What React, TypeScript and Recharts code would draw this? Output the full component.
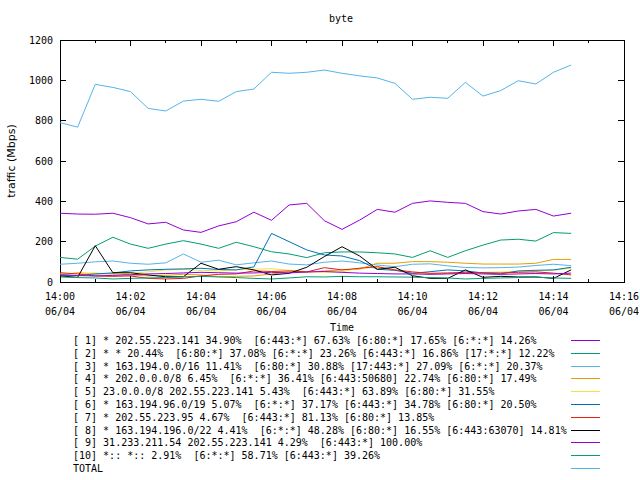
import { LineChart, Line, XAxis, YAxis, ReferenceArea, Legend } from "recharts";

// seconds after 14:00, one sample every 30s
const times = [
  0, 30, 60, 90, 120, 150, 180, 210, 240, 270, 300, 330, 360, 390, 420,
  450, 480, 510, 540, 570, 600, 630, 660, 690, 720, 750, 780, 810, 840, 870,
];

const s1 = [341, 337, 336, 341, 319, 288, 296, 258, 246, 278, 299, 346, 306, 382, 390, 304, 261, 307, 360, 346, 390, 402, 395, 390, 349, 337, 352, 360, 327, 341];
const s2 = [122, 113, 178, 222, 188, 167, 188, 205, 188, 167, 197, 175, 150, 139, 121, 145, 149, 149, 145, 139, 122, 155, 122, 155, 183, 208, 212, 203, 245, 241];
const s3 = [88, 93, 100, 104, 93, 88, 95, 139, 98, 108, 85, 95, 104, 89, 85, 98, 104, 95, 84, 76, 88, 90, 80, 72, 70, 71, 74, 82, 88, 81];
const s4 = [35, 46, 40, 42, 35, 30, 33, 38, 35, 26, 28, 30, 40, 50, 48, 55, 60, 64, 93, 93, 101, 101, 98, 93, 89, 89, 89, 93, 112, 112];
const s5 = [40, 42, 45, 38, 44, 50, 60, 62, 58, 55, 60, 64, 66, 58, 52, 48, 50, 70, 72, 60, 44, 40, 42, 45, 48, 50, 52, 55, 58, 68];
const s6 = [35, 32, 40, 45, 55, 60, 63, 65, 68, 62, 60, 75, 241, 200, 159, 134, 129, 106, 63, 58, 43, 51, 60, 55, 45, 40, 55, 58, 60, 73];
const s7 = [46, 40, 30, 28, 30, 18, 15, 18, 30, 38, 40, 55, 52, 55, 50, 71, 60, 68, 76, 60, 50, 43, 45, 48, 46, 45, 48, 50, 44, 35];
const s8 = [30, 23, 180, 46, 46, 35, 26, 26, 93, 63, 76, 60, 35, 43, 73, 126, 175, 129, 63, 73, 31, 18, 18, 60, 23, 28, 25, 25, 18, 60];
const s9 = [35, 32, 30, 33, 36, 40, 42, 45, 48, 46, 44, 45, 48, 45, 50, 52, 48, 44, 42, 40, 40, 38, 40, 42, 40, 38, 40, 42, 40, 44];
const s10 = [25, 22, 20, 15, 18, 20, 22, 26, 28, 25, 22, 18, 15, 20, 26, 25, 28, 26, 26, 25, 24, 22, 20, 15, 18, 20, 22, 24, 20, 18];
const total = [790, 768, 980, 965, 944, 861, 848, 897, 906, 896, 944, 957, 1040, 1035, 1040, 1051, 1035, 1022, 1012, 985, 906, 916, 911, 990, 922, 949, 998, 982, 1040, 1076];

const seriesValues = [s1, s2, s3, s4, s5, s6, s7, s8, s9, s10, total];

const seriesNames = [
  "[ 1] * 202.55.223.141 34.90%  [6:443:*] 67.63% [6:80:*] 17.65% [6:*:*] 14.26%",
  "[ 2] * * 20.44%  [6:80:*] 37.08% [6:*:*] 23.26% [6:443:*] 16.86% [17:*:*] 12.22%",
  "[ 3] * 163.194.0.0/16 11.41%  [6:80:*] 30.88% [17:443:*] 27.09% [6:*:*] 20.37%",
  "[ 4] * 202.0.0.0/8 6.45%  [6:*:*] 36.41% [6:443:50680] 22.74% [6:80:*] 17.49%",
  "[ 5] 23.0.0.0/8 202.55.223.141 5.43%  [6:443:*] 63.89% [6:80:*] 31.55%",
  "[ 6] * 163.194.96.0/19 5.07%  [6:*:*] 37.17% [6:443:*] 34.78% [6:80:*] 20.50%",
  "[ 7] * 202.55.223.95 4.67%  [6:443:*] 81.13% [6:80:*] 13.85%",
  "[ 8] * 163.194.196.0/22 4.41%  [6:*:*] 48.28% [6:80:*] 16.55% [6:443:63070] 14.81%",
  "[ 9] 31.233.211.54 202.55.223.141 4.29%  [6:443:*] 100.00%",
  "[10] *:: *:: 2.91%  [6:*:*] 58.71% [6:443:*] 39.26%",
  "TOTAL",
];

const seriesColors = [
  "#9400d3", "#009e73", "#56b4e9", "#e69f00", "#f0e442",
  "#0072b2", "#e51e10", "#000000", "#9400d3", "#009e73", "#56b4e9",
];

const xTicks = [0, 60, 120, 180, 240, 300, 360, 420, 480, 540, 600, 660, 720, 780, 840, 900, 960];
const yTicks = [0, 200, 400, 600, 800, 1000, 1200];
const dateLabel = "06/04";

const MONO = "'DejaVu Sans Mono', monospace";
const PLOT_W = 564;
const PLOT_H = 242;

const data = times.map((t, i) => {
  const row: Record<string, number> = { t };
  seriesValues.forEach((vals, k) => {
    row["s" + k] = vals[i];
  });
  return row;
});

const TimeTick = ({ x, y, payload }: any) => {
  const min = payload.value / 60;
  const major = min % 2 === 0;
  const len = major ? 6 : 3;
  return (
    <g>
      <line x1={x} x2={x} y1={y} y2={y - len} stroke="#000" shapeRendering="crispEdges" />
      <line x1={x} x2={x} y1={y - PLOT_H} y2={y - PLOT_H + len} stroke="#000" shapeRendering="crispEdges" />
      {major && (
        <text textAnchor="middle" fontFamily={MONO} fontSize={10} fill="#000">
          <tspan x={x} y={y + 18}>{`14:${String(min).padStart(2, "0")}`}</tspan>
          <tspan x={x} y={y + 33}>{dateLabel}</tspan>
        </text>
      )}
    </g>
  );
};

const ValueTick = ({ x, y, payload }: any) => (
  <g>
    <line x1={x} x2={x + 6} y1={y} y2={y} stroke="#000" shapeRendering="crispEdges" />
    <line x1={x + PLOT_W - 6} x2={x + PLOT_W} y1={y} y2={y} stroke="#000" shapeRendering="crispEdges" />
    <text x={x - 7} y={y + 3.5} textAnchor="end" fontFamily={MONO} fontSize={10} fill="#000">
      {payload.value}
    </text>
  </g>
);

const keyIndex = (p: any) => Number(String(p.dataKey).slice(1));

const KeyBox = ({ payload }: any) => {
  const items = [...(payload ?? [])].sort((a: any, b: any) => keyIndex(a) - keyIndex(b));
  return (
    <div style={{ position: "relative", width: 640, height: 142, fontFamily: MONO, fontSize: 10, color: "#000" }}>
      {items.map((p: any, i: number) => {
        const top = Math.round(i * 12.8);
        return (
          <div key={p.dataKey}>
            <div
              style={{
                position: "absolute",
                left: 73,
                top,
                lineHeight: "13px",
                whiteSpace: "pre",
              }}
            >
              {seriesNames[keyIndex(p)]}
            </div>
            <div
              style={{
                position: "absolute",
                left: 571,
                top: top + 6,
                width: 29,
                height: 1,
                background: seriesColors[keyIndex(p)],
              }}
            />
          </div>
        );
      })}
    </div>
  );
};

export default function App() {
  return (
    <div style={{ position: "absolute", left: 0, top: 0, width: 640, height: 480, background: "#fff" }}>
      <div
        style={{
          position: "absolute",
          left: 341,
          top: 13,
          transform: "translateX(-50%)",
          fontFamily: MONO,
          fontSize: 10,
        }}
      >
        byte
      </div>
      <LineChart
        width={640}
        height={480}
        data={data}
        margin={{ top: 40, right: 16, left: 0, bottom: 158 }}
      >
        <XAxis
          dataKey="t"
          type="number"
          domain={[0, 960]}
          ticks={xTicks}
          interval={0}
          height={40}
          axisLine={false}
          tickLine={false}
          tickSize={0}
          tickMargin={0}
          tick={<TimeTick />}
          label={{
            content: ({ viewBox }: any) => (
              <text
                x={viewBox.x + viewBox.width / 2}
                y={viewBox.y + viewBox.height + 9}
                textAnchor="middle"
                fontFamily={MONO}
                fontSize={10}
              >
                Time
              </text>
            ),
          }}
        />
        <YAxis
          type="number"
          domain={[0, 1200]}
          ticks={yTicks}
          interval={0}
          width={60}
          axisLine={false}
          tickLine={false}
          tickSize={0}
          tickMargin={0}
          tick={<ValueTick />}
          label={{
            content: ({ viewBox }: any) => (
              <text
                x={11}
                y={viewBox.y + viewBox.height / 2}
                transform={`rotate(-90 11 ${viewBox.y + viewBox.height / 2})`}
                textAnchor="middle"
                dominantBaseline="central"
                fontFamily="'DejaVu Sans', sans-serif"
                fontSize={11}
              >
                traffic (Mbps)
              </text>
            ),
          }}
        />
        {seriesValues.map((_, k) => (
          <Line
            key={k}
            dataKey={"s" + k}
            name={seriesNames[k]}
            stroke={seriesColors[k]}
            strokeWidth={1}
            type="linear"
            dot={false}
            activeDot={false}
            isAnimationActive={false}
          />
        ))}
        <ReferenceArea x1={0} x2={960} y1={0} y2={1200} fill="none" stroke="#000" strokeWidth={1} shapeRendering="crispEdges" />
        <Legend
          layout="horizontal"
          verticalAlign="middle"
          align="center"
          content={<KeyBox />}
          wrapperStyle={{ position: "absolute", left: 0, top: 334, width: 640, height: 142 }}
        />
      </LineChart>
    </div>
  );
}
